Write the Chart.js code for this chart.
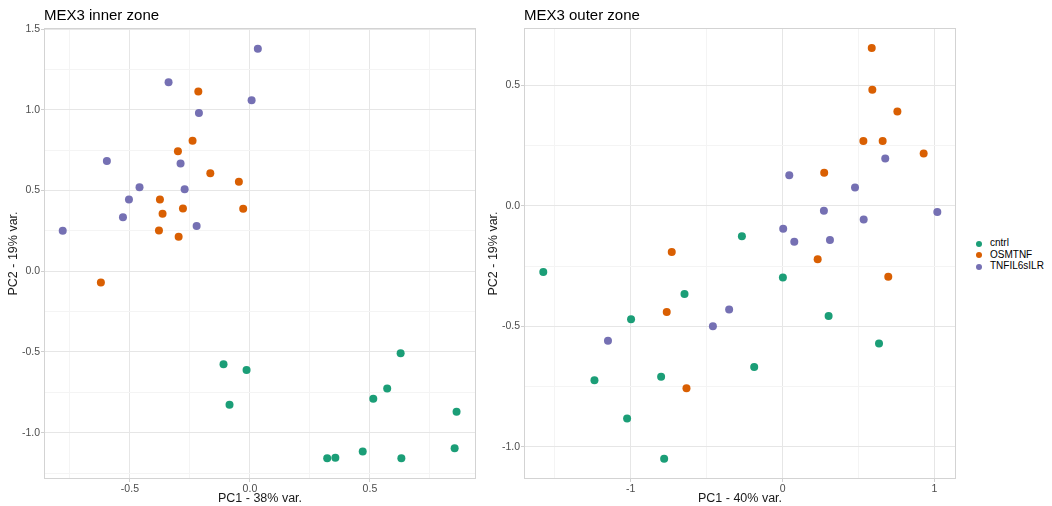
<!DOCTYPE html>
<html>
<head>
<meta charset="utf-8">
<script src="https://cdn.jsdelivr.net/npm/chart.js@4"></script>
<style>
  body { margin: 0; background: #fff; width: 1052px; height: 506px; position: relative; overflow: hidden;
         font-family: "Liberation Sans", Arial, sans-serif; }
  .panel { position: absolute; top: 0; width: 480px; height: 506px; }
  .title { position: absolute; top: 7px; font-size: 15px; line-height: 1; color: #000; }
  .legend { position: absolute; left: 975px; top: 237px; font-size: 10px; color: #000; }
  .legend div { height: 11.7px; line-height: 11.7px; white-space: nowrap; }
  .legend span { display: inline-block; width: 6px; height: 6px; border-radius: 50%; margin: 0 8px 0 1px; vertical-align: -0.5px; }
</style>
</head>
<body>
<div class="panel" style="left:0"><canvas id="innerChart"></canvas></div>
<div class="panel" style="left:480px"><canvas id="outerChart"></canvas></div>
<div class="title" style="left:44px">MEX3 inner zone</div>
<div class="title" style="left:524px">MEX3 outer zone</div>
<div class="legend" id="legend"></div>
<script>
// ── Data ────────────────────────────────────────────────
const groups = ["cntrl", "OSMTNF", "TNFIL6sILR"];
const colors = ["#1B9E77", "#D95F02", "#7570B3"];

// inner zone (PC1 - 38% var., PC2 - 19% var.)
const innerCntrlX = [-0.11, -0.014, -0.085, 0.628, 0.572, 0.514, 0.861, 0.853, 0.47, 0.322, 0.356, 0.631];
const innerCntrlY = [-0.576, -0.611, -0.827, -0.508, -0.726, -0.79, -0.87, -1.097, -1.117, -1.158, -1.156, -1.158];
const innerOsmX = [-0.215, -0.239, -0.3, -0.165, -0.046, -0.375, -0.279, -0.028, -0.364, -0.379, -0.297, -0.621];
const innerOsmY = [1.113, 0.809, 0.743, 0.607, 0.554, 0.444, 0.389, 0.387, 0.356, 0.253, 0.214, -0.07];
const innerTnfX = [0.033, -0.339, 0.007, -0.2125, -0.596, -0.289, -0.46, -0.272, -0.504, -0.529, -0.222, -0.78];
const innerTnfY = [1.378, 1.171, 1.06, 0.981, 0.683, 0.667, 0.521, 0.508, 0.444, 0.335, 0.28, 0.251];

// outer zone (PC1 - 40% var., PC2 - 19% var.)
const outerCntrlX = [-0.268, -1.576, 0.002, -0.646, -0.998, 0.303, 0.635, -0.187, -1.239, -0.8, -1.024, -0.78];
const outerCntrlY = [-0.126, -0.275, -0.298, -0.366, -0.471, -0.457, -0.572, -0.669, -0.724, -0.71, -0.883, -1.05];
const outerOsmX = [0.587, 0.591, 0.756, 0.532, 0.659, 0.929, 0.274, -0.73, 0.231, 0.696, -0.763, -0.633];
const outerOsmY = [0.655, 0.482, 0.391, 0.269, 0.269, 0.217, 0.137, -0.192, -0.222, -0.294, -0.441, -0.757];
const outerTnfX = [0.676, 0.044, 0.477, 0.272, 1.019, 0.534, 0.004, 0.077, 0.312, -0.352, -0.459, -1.15];
const outerTnfY = [0.196, 0.127, 0.076, -0.021, -0.026, -0.057, -0.095, -0.149, -0.142, -0.43, -0.5, -0.56];

// tick positions (major labelled, minor only gridlines)
const innerXTicks = [-0.75, -0.5, -0.25, 0, 0.25, 0.5, 0.75];
const innerXMajor = [-0.5, 0, 0.5];
const innerYTicks = [-1.25, -1, -0.75, -0.5, -0.25, 0, 0.25, 0.5, 0.75, 1, 1.25, 1.5];
const innerYMajor = [-1, -0.5, 0, 0.5, 1, 1.5];
const outerXTicks = [-1.5, -1, -0.5, 0, 0.5, 1];
const outerXMajor = [-1, 0, 1];
const outerYTicks = [-1, -0.75, -0.5, -0.25, 0, 0.25, 0.5];
const outerYMajor = [-1, -0.5, 0, 0.5];

// ── Helpers ─────────────────────────────────────────────
const FONT = "'Liberation Sans', Arial, sans-serif";
const zip = (xs, ys) => xs.map((x, i) => ({ x: x, y: ys[i] }));

function makeDatasets(series) {
  return series.map((s, i) => ({
    label: groups[i],
    data: zip(s[0], s[1]),
    backgroundColor: colors[i],
    borderWidth: 0,
    pointRadius: 4,
    pointHoverRadius: 4
  }));
}

function makeScale(min, max, ticks, majors, fmt, title, isX) {
  return {
    type: "linear",
    min: min,
    max: max,
    afterBuildTicks: (scale) => { scale.ticks = ticks.map((v) => ({ value: v })); },
    afterFit: (scale) => {
      if (isX) scale.height = 27;
      else scale.width = 44;
    },
    grid: {
      color: (c) => majors.includes(c.tick && c.tick.value) ? "#E6E6E6" : "#F4F4F4",
      tickColor: (c) => majors.includes(c.tick && c.tick.value) ? "#CFCFCF" : "rgba(0,0,0,0)",
      tickLength: 3,
      lineWidth: 1
    },
    border: { display: false },
    ticks: {
      autoSkip: false,
      maxRotation: 0,
      padding: 1,
      color: "#4D4D4D",
      font: { family: FONT, size: 10.5 },
      callback: (v) => majors.includes(v) ? fmt(v) : ""
    },
    title: {
      display: true,
      text: title,
      color: "#1A1A1A",
      font: { family: FONT, size: 12.5 },
      padding: isX ? { top: 0, bottom: 0 } : { top: 6, bottom: 0 }
    }
  };
}

// full panel border like ggplot theme_light
const panelBorder = {
  id: "panelBorder",
  beforeDatasetsDraw(chart) {
    const a = chart.chartArea;
    const c = chart.ctx;
    c.save();
    c.strokeStyle = "#D3D3D3";
    c.lineWidth = 1;
    c.strokeRect(a.left + 0.5, a.top + 0.5, a.right - a.left - 1, a.bottom - a.top - 1);
    c.restore();
  }
};

function makeChart(id, datasets, xScale, yScale) {
  return new Chart(document.getElementById(id).getContext("2d"), {
    type: "scatter",
    data: { datasets: datasets },
    options: {
      responsive: true,
      maintainAspectRatio: false,
      animation: false,
      layout: { padding: { top: 28, right: 4, left: 0, bottom: 0 } },
      scales: { x: xScale, y: yScale },
      plugins: { legend: { display: false }, tooltip: { enabled: false } }
    },
    plugins: [panelBorder]
  });
}

// ── Charts ──────────────────────────────────────────────
makeChart("innerChart",
  makeDatasets([[innerCntrlX, innerCntrlY], [innerOsmX, innerOsmY], [innerTnfX, innerTnfY]]),
  makeScale(-0.858, 0.942, innerXTicks, innerXMajor, (v) => v.toFixed(1), "PC1 - 38% var.", true),
  makeScale(-1.287, 1.507, innerYTicks, innerYMajor, (v) => v.toFixed(1), "PC2 - 19% var.", false));

makeChart("outerChart",
  makeDatasets([[outerCntrlX, outerCntrlY], [outerOsmX, outerOsmY], [outerTnfX, outerTnfY]]),
  makeScale(-1.703, 1.142, outerXTicks, outerXMajor, (v) => v.toFixed(0), "PC1 - 40% var.", true),
  makeScale(-1.134, 0.738, outerYTicks, outerYMajor, (v) => v.toFixed(1), "PC2 - 19% var.", false));

// ── Legend ──────────────────────────────────────────────
const legendEl = document.getElementById("legend");
groups.forEach((g, i) => {
  const row = document.createElement("div");
  const dot = document.createElement("span");
  dot.style.background = colors[i];
  row.appendChild(dot);
  row.appendChild(document.createTextNode(g));
  legendEl.appendChild(row);
});
</script>
</body>
</html>
